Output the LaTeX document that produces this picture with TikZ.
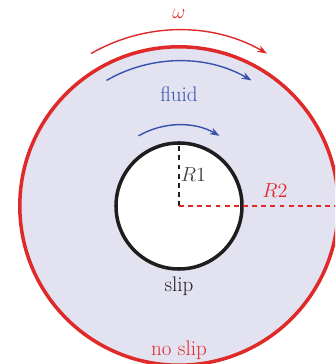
\documentclass[tikz,border=0pt]{standalone}
\usepackage{tikz}
\usepackage{xcolor}
\usetikzlibrary{arrows.meta,positioning,calc}

\definecolor{fluidfill}{RGB}{226,226,241}
\definecolor{wallred}{RGB}{224,42,42}
\definecolor{flowblue}{RGB}{56,82,172}
\definecolor{darkwall}{RGB}{30,30,30}

\begin{document}
\begin{tikzpicture}[
    txt/.style={font=\fontsize{15}{18}\selectfont},
    flow/.style={flowblue, line width=1pt, -{Stealth[length=7pt,width=5pt]}},
    radius line/.style={line width=0.9pt, dash pattern=on 3.5pt off 3pt}
]
    % Frame
    \useasboundingbox (-4.475,-3.95) rectangle (3.9,5.15);
    \clip (-4.475,-3.95) rectangle (3.9,5.15);
    \coordinate (c) at (0,0);

    % Walls
    \node[circle, draw=wallred, fill=fluidfill, line width=2.5pt, minimum size=7.96cm, inner sep=0] (outer) at (c) {};
    \node[circle, draw=darkwall, fill=white, line width=2.5pt, minimum size=3.15cm, inner sep=0] (inner) at (c) {};

    % Radii
    \draw[radius line, darkwall] (c) -- (inner.north);
    \draw[radius line, wallred] (c) -- (outer.east);

    % Labels
    \node[txt, darkwall!85, anchor=west] (r1) at (-0.08,0.78) {$R1$};
    \node[txt, wallred] (r2) at (2.4,0.39) {$R2$};
    \node[txt, darkwall] (slip) at (0,-2.0) {slip};
    \node[txt, wallred] (noslip) at (0,-3.6) {no slip};
    \node[txt, flowblue] (fluid) at (0,2.8) {fluid};
    \node[txt, wallred] (omega) at (0,4.8) {$\omega$};

    % Rotation
    \draw[flow, wallred] (120:4.4) arc[start angle=120, end angle=60, radius=4.4];
    \draw[flow] (120:3.625) arc[start angle=120, end angle=60, radius=3.625];
    \draw[flow] (120:2.025) arc[start angle=120, end angle=60, radius=2.025];
\end{tikzpicture}
\end{document}
